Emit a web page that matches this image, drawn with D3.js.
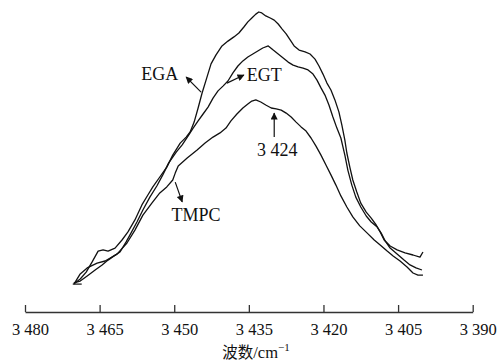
<!DOCTYPE html>
<html>

<head>
	<title>IR spectra</title>
	<style>
		body {
			margin: 0;
			background: #ffffff;
		}
		text {
			font-family: "Liberation Serif", "DejaVu Serif", serif;
		}
	</style>
</head>

<body>
	<script src="https://d3js.org/d3.v7.min.js"></script>
	<script type="text/javascript">
		// wavenumber (cm-1) and relative intensity
		var egaWn = [3470.2, 3468.9, 3467.7, 3466.5, 3465.3, 3464.3, 3463.3, 3461.9, 3460.5, 3459.3, 3457.9, 3456.5, 3455.3, 3454.3, 3452.9, 3451.5, 3450.3, 3448.8, 3447.6, 3446.8, 3446.0, 3445.2, 3444.4, 3443.6, 3442.6, 3441.6, 3440.4, 3439.2, 3438.0, 3437.0, 3436.0, 3435.2, 3434.4, 3433.6, 3433.0, 3432.4, 3431.6, 3430.7, 3429.9, 3429.1, 3428.3, 3427.5, 3426.7, 3425.9, 3424.9, 3423.7, 3422.7, 3421.7, 3420.9, 3420.1, 3419.3, 3418.5, 3417.7, 3416.9, 3416.3, 3415.7, 3415.3, 3414.7, 3414.1, 3413.3, 3412.5, 3411.4, 3410.4, 3409.4, 3408.6, 3407.8, 3406.6, 3405.2, 3403.6, 3402.0, 3400.6, 3400.0];
		var egaVal = [9.3, 11.0, 13.3, 16.7, 20.3, 20.7, 20.3, 21.3, 24.0, 26.7, 30.7, 35.7, 39.0, 41.7, 45.0, 48.3, 52.3, 56.3, 58.3, 60.0, 63.3, 68.0, 73.0, 77.3, 82.7, 85.7, 88.7, 90.3, 91.7, 93.0, 95.0, 96.7, 98.0, 99.3, 100.0, 99.7, 98.7, 98.0, 97.3, 96.0, 94.3, 92.7, 90.7, 88.7, 87.3, 86.7, 86.0, 84.3, 82.0, 79.3, 76.3, 74.0, 70.7, 66.7, 62.3, 57.3, 53.0, 48.3, 44.0, 40.0, 36.3, 33.3, 31.3, 29.0, 26.7, 24.0, 22.0, 20.7, 19.7, 19.0, 18.3, 20.0];

		var egtWn = [3470.2, 3468.9, 3467.5, 3465.9, 3464.5, 3463.3, 3462.1, 3460.9, 3459.7, 3458.7, 3457.5, 3456.3, 3454.9, 3453.5, 3452.3, 3451.1, 3449.6, 3448.4, 3447.2, 3446.2, 3445.2, 3444.2, 3443.2, 3442.2, 3441.2, 3440.2, 3439.2, 3438.2, 3437.2, 3436.2, 3435.2, 3434.2, 3433.2, 3432.2, 3431.1, 3430.1, 3429.1, 3428.1, 3427.1, 3426.1, 3425.1, 3424.1, 3423.1, 3422.1, 3421.3, 3420.5, 3419.7, 3418.9, 3418.1, 3417.3, 3416.5, 3415.7, 3415.1, 3414.3, 3413.5, 3412.5, 3411.4, 3410.4, 3409.2, 3408.4, 3407.6, 3406.6, 3405.2, 3403.8, 3402.6, 3401.4, 3400.2];
		var egtVal = [9.7, 10.3, 12.0, 14.0, 15.7, 17.3, 18.7, 20.0, 23.3, 26.3, 30.0, 34.0, 38.3, 42.0, 45.7, 49.7, 53.3, 55.7, 58.7, 61.3, 63.7, 66.0, 68.3, 71.3, 73.7, 75.3, 77.0, 79.7, 82.0, 83.7, 85.0, 86.0, 87.0, 88.0, 88.7, 87.3, 86.0, 84.7, 83.3, 82.3, 81.7, 81.3, 80.7, 79.3, 77.3, 74.7, 72.3, 69.0, 65.0, 61.3, 58.0, 52.3, 47.3, 42.3, 38.3, 35.0, 32.0, 30.0, 28.3, 26.3, 23.7, 21.3, 19.3, 17.3, 15.7, 14.7, 14.0];

		var tmpcWn = [3470.0, 3468.9, 3467.5, 3465.5, 3463.9, 3461.5, 3459.5, 3457.9, 3456.3, 3454.5, 3452.9, 3451.5, 3450.3, 3449.8, 3449.2, 3447.4, 3445.4, 3443.8, 3442.2, 3440.8, 3439.6, 3438.6, 3437.4, 3436.2, 3435.2, 3434.4, 3433.6, 3432.6, 3431.6, 3430.5, 3429.5, 3428.5, 3427.5, 3426.5, 3425.5, 3424.5, 3423.5, 3422.5, 3421.5, 3420.5, 3419.5, 3418.5, 3417.5, 3416.5, 3415.3, 3414.1, 3412.7, 3411.2, 3409.8, 3408.6, 3407.2, 3406.0, 3404.6, 3403.2, 3402.0, 3401.0, 3400.0];
		var tmpcVal = [9.7, 12.7, 14.7, 16.3, 17.0, 19.3, 23.0, 27.3, 32.3, 36.3, 39.7, 41.7, 44.0, 46.3, 48.7, 51.3, 54.0, 56.3, 58.3, 59.7, 61.3, 63.7, 66.0, 68.0, 69.3, 70.3, 70.7, 70.0, 69.0, 68.0, 67.7, 67.3, 66.3, 65.0, 63.3, 61.7, 60.3, 58.0, 55.3, 52.3, 49.0, 45.7, 42.3, 38.7, 35.0, 31.7, 28.7, 26.3, 24.0, 22.3, 20.3, 18.7, 17.0, 15.0, 13.0, 12.3, 12.3];

		var tickValues = [3480, 3465, 3450, 3435, 3420, 3405, 3390];

		// labels: text, text position, arrow tail, arrow head (data units)
		var labelNames = ["EGA", "EGT", "3 424", "TMPC"];
		var labelAt = [[3452.9, 77.3], [3435.4, 77.0], [3429.3, 52.0], [3445.6, 30.3]];
		var arrowFrom = [[3444.6, 73.3], [3439.4, 76.3], [3429.9, 58.3], [3449.8, 43.3]];
		var arrowTo = [[3447.6, 78.3], [3436.0, 79.0], [3429.9, 66.3], [3448.4, 36.7]];

		var width = 502;
		var height = 363;

		var svg = d3.select("body").append("svg")
			.attr("width", width)
			.attr("height", height);

		var x = d3.scaleLinear()
			.domain([3480, 3390])
			.range([25, 472.7]);
		var y = d3.scaleLinear()
			.domain([0, 100])
			.range([312, 12]);

		var defs = svg.append("defs");
		defs.append("marker")
			.attr("id", "head")
			.attr("viewBox", "0 0 10 10")
			.attr("refX", 9)
			.attr("refY", 5)
			.attr("markerWidth", 10)
			.attr("markerHeight", 7)
			.attr("markerUnits", "userSpaceOnUse")
			.attr("orient", "auto")
			.append("path")
			.attr("d", "M0,0 L10,5 L0,10 z")
			.style("fill", "#111");

		var line = d3.line()
			.x(function(d) { return x(d[0]); })
			.y(function(d) { return y(d[1]); });

		var series = [[egaWn, egaVal], [egtWn, egtVal], [tmpcWn, tmpcVal]];
		series.forEach(function(s) {
			var pts = s[0].map(function(w, i) { return [w, s[1][i]]; });
			svg.append("path")
				.datum(pts)
				.attr("d", line)
				.style("fill", "none")
				.style("stroke", "#111")
				.style("stroke-width", 1.3)
				.style("stroke-linejoin", "round");
		});

		// little stub at the left start of the curves
		svg.append("line")
			.attr("x1", x(3470.4))
			.attr("x2", x(3468.6))
			.attr("y1", y(9.3))
			.attr("y2", y(9.3))
			.style("stroke", "#111")
			.style("stroke-width", 1.2);

		// x axis
		var xAxis = d3.axisBottom(x)
			.tickValues(tickValues)
			.tickSizeInner(-7)
			.tickSizeOuter(0)
			.tickFormat(function(d) { return d3.format("d")(d).replace(/^(\d)/, "$1 "); });

		var gx = svg.append("g")
			.attr("transform", "translate(0," + y(0) + ")")
			.call(xAxis);
		gx.select(".domain")
			.style("stroke", "#333")
			.style("stroke-width", 1.5);
		gx.selectAll(".tick line")
			.style("stroke", "#333")
			.style("stroke-width", 1.3);
		gx.selectAll(".tick text")
			.attr("y", 11)
			.attr("dx", 5)
			.attr("dy", "0.71em")
			.style("font-family", "'Liberation Serif', serif")
			.style("font-size", "16.5px")
			.style("fill", "#111");

		var xTitle = svg.append("text")
			.attr("x", 256)
			.attr("y", 358)
			.attr("text-anchor", "middle")
			.style("font-size", "16.5px")
			.style("fill", "#111");
		xTitle.append("tspan")
			.style("font-family", "'Noto Sans CJK SC', sans-serif")
			.style("font-size", "15.5px")
			.text("波数");
		xTitle.append("tspan").text("/cm");
		xTitle.append("tspan")
			.attr("dy", -7)
			.style("font-size", "11px")
			.text("−1");

		// annotations
		labelNames.forEach(function(name, i) {
			svg.append("line")
				.attr("x1", x(arrowFrom[i][0]))
				.attr("y1", y(arrowFrom[i][1]))
				.attr("x2", x(arrowTo[i][0]))
				.attr("y2", y(arrowTo[i][1]))
				.attr("marker-end", "url(#head)")
				.style("stroke", "#111")
				.style("stroke-width", 1.2);
			svg.append("text")
				.attr("x", x(labelAt[i][0]))
				.attr("y", y(labelAt[i][1]))
				.attr("text-anchor", i == 1 ? "start" : "middle")
				.style("font-size", "18px")
				.style("fill", "#111")
				.text(name);
		});
	</script>
</body>

</html>
